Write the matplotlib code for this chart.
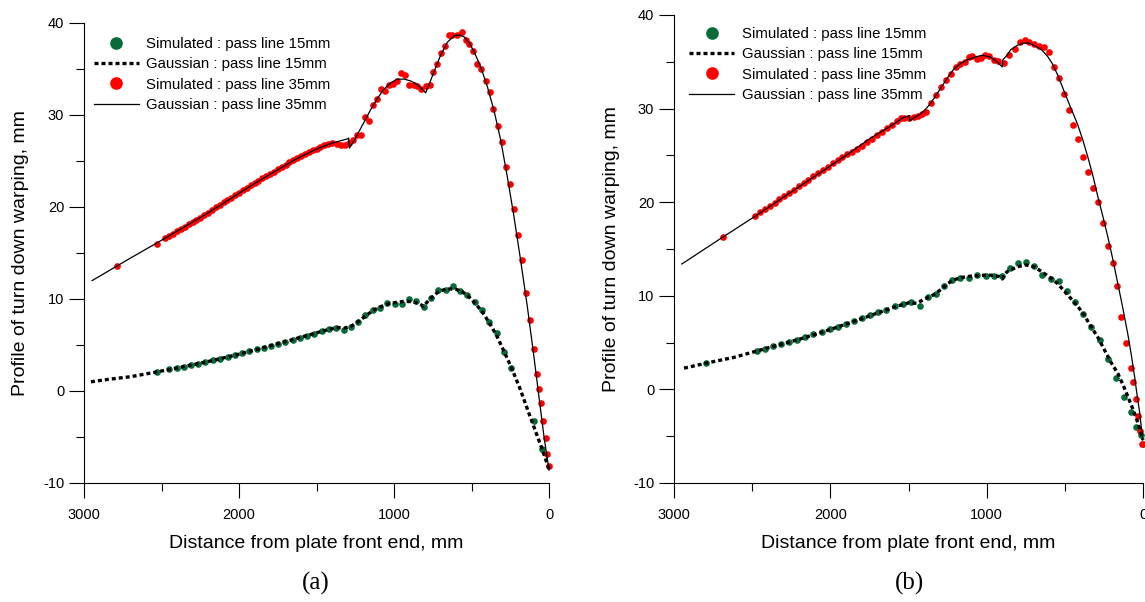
import matplotlib
matplotlib.use('Agg')
import matplotlib.pyplot as plt
from matplotlib.ticker import MultipleLocator

plt.rcParams['font.family'] = ['Liberation Sans', 'DejaVu Sans']
plt.rcParams['axes.unicode_minus'] = False

GREEN = '#0a6b3a'
RED = '#ff0000'

# ---------------- Panel (a) ----------------
a_x15 = [2532, 2452, 2403, 2356, 2309, 2264, 2217, 2168, 2121, 2074, 2027, 1980, 1933, 1886,
         1839, 1795, 1748, 1701, 1654, 1607, 1560, 1513, 1466, 1419, 1372, 1325, 1278, 1231,
         1184, 1137, 1090, 1043, 996, 949, 902, 855, 808, 761, 714, 667, 620, 573, 526, 479,
         432, 385, 338, 291, 244, 99, 42]
a_y15 = [2.1, 2.36, 2.5, 2.64, 2.83, 2.97, 3.15, 3.33, 3.51, 3.7, 3.91, 4.09, 4.31, 4.53,
         4.71, 4.93, 5.14, 5.33, 5.58, 5.8, 6.01, 6.23, 6.52, 6.78, 6.88, 6.67, 6.96, 7.5,
         8.22, 8.8, 9.06, 9.57, 9.46, 9.49, 9.96, 9.75, 9.17, 10.07, 10.94, 10.94, 11.38, 10.83,
         10.4, 9.71, 8.77, 7.5, 6.34, 4.24, 2.46, -3.3, -6.3]

a_gx15 = [2955, 2842, 2701, 2537, 2400, 2200, 2000, 1800, 1600, 1420, 1370, 1320, 1280, 1230,
          1180, 1130, 1080, 1030, 980, 930, 880, 840, 808, 790, 760, 720, 680, 640, 600, 560,
          520, 480, 430, 385, 340, 290, 244, 188, 117, 47, 0]
a_gy15 = [1.0, 1.27, 1.55, 2.05, 2.5, 3.2, 4.0, 4.9, 5.85, 6.7, 6.9, 6.85, 7.0, 7.55,
          8.2, 8.8, 9.2, 9.5, 9.65, 9.75, 9.7, 9.5, 9.2, 9.6, 10.1, 10.7, 11.0, 11.1, 11.05, 10.8,
          10.3, 9.6, 8.6, 7.4, 6.1, 4.3, 2.6, 0.3, -3.0, -6.2, -8.5]

a_x35 = [2787, 2529,
         2475, 2450, 2425, 2400, 2375, 2350, 2325, 2300, 2275, 2250, 2225, 2200, 2175, 2150,
         2125, 2100, 2075, 2050, 2025, 2000, 1975, 1950, 1925, 1900, 1875, 1850, 1825, 1800,
         1775, 1750, 1725, 1700, 1675, 1650, 1625, 1600, 1575, 1550, 1525, 1500, 1475, 1450,
         1425, 1400,
         1370, 1344, 1316, 1290, 1262, 1237, 1211, 1189, 1161, 1137, 1112, 1086, 1058, 1032,
         1004, 978, 957, 929, 903, 871, 849, 824, 796, 770, 746, 720, 695, 673, 645, 624,
         591, 563, 538, 516, 488, 462, 437, 409, 383, 359, 329, 303, 275, 252, 224, 198,
         172, 146, 120, 95, 75, 62, 49, 37, 22, 11, 2]
a_y35 = [13.6, 16.0,
         16.6, 16.85, 17.1, 17.35, 17.6, 17.85, 18.1, 18.35, 18.6, 18.85, 19.15, 19.4, 19.7, 19.95,
         20.2, 20.5, 20.75, 21.0, 21.25, 21.55, 21.8, 22.05, 22.35, 22.6, 22.85, 23.1, 23.35, 23.6,
         23.85, 24.1, 24.35, 24.6, 24.85, 25.1, 25.3, 25.5, 25.75, 25.95, 26.15, 26.35, 26.55, 26.7,
         26.85, 27.0,
         26.8, 26.7, 26.7, 27.0, 27.3, 27.8, 27.8, 29.8, 29.3, 31.1, 31.7, 32.8, 32.6, 33.3,
         33.4, 33.7, 34.6, 34.3, 33.3, 33.3, 33.1, 32.8, 33.1, 33.3, 34.7, 35.5, 36.7, 37.5, 38.7, 38.7,
         38.7, 39.0, 38.2, 37.7, 37.0, 35.5, 35.0, 33.7, 32.5, 30.7, 28.8, 27.1, 24.4, 22.5, 19.8, 17.0,
         14.2, 10.7, 7.7, 4.6, 1.9, 0.2, -1.3, -3.3, -5.1, -6.8, -8.1]

a_gx35 = [2948, 2700, 2478, 2200, 1900, 1650, 1500, 1400, 1300, 1292, 1288, 1258, 1226, 1194,
          1150, 1107, 1065, 1021, 978, 935, 892, 849, 817, 796, 774, 742, 699, 656, 613, 581,
          548, 516, 484, 441, 398, 355, 312, 269, 226, 183, 140, 97, 65, 32, 0]
a_gy35 = [12.0, 14.45, 16.6, 19.35, 22.55, 25.05, 26.3, 26.95, 27.4, 27.5, 26.4, 27.2, 28.2, 29.2,
          30.6, 31.8, 32.8, 33.5, 33.9, 33.9, 33.7, 33.3, 32.8, 32.4, 33.3, 34.7, 36.5, 37.9, 38.6, 38.7,
          38.5, 37.9, 36.9, 35.25, 33.1, 30.5, 27.3, 23.3, 18.95, 14.2, 9.2, 3.7, -0.6, -5.0, -8.6]

# ---------------- Panel (b) ----------------
b_x15 = [2795, 2471, 2420, 2368, 2316, 2265, 2213, 2162, 2110, 2056, 2004, 1953, 1901, 1847,
         1795, 1744, 1692, 1641, 1587, 1535, 1486, 1429, 1375, 1324, 1272, 1222, 1168, 1114,
         1061, 1007, 954, 904, 851, 799, 748, 696, 643, 589, 540, 486, 435, 384, 332, 276,
         225, 172, 122, 76, 46, 15, 1]
b_y15 = [2.8, 4.12, 4.34, 4.59, 4.83, 5.08, 5.33, 5.58, 5.87, 6.12, 6.4, 6.69, 7.01, 7.29,
         7.58, 7.9, 8.22, 8.5, 8.86, 9.15, 9.29, 8.86, 9.88, 10.2, 11.0, 11.7, 11.9, 11.9,
         12.2, 12.1, 12.1, 12.1, 13.0, 13.5, 13.6, 13.2, 12.2, 11.8, 11.6, 10.5, 9.3, 8.1, 6.65, 5.3,
         3.3, 1.2, -0.8, -2.45, -4.0, -4.9, -5.85]

b_gx15 = [2936, 2795, 2612, 2471, 2200, 2000, 1800, 1600, 1500, 1446, 1404, 1340, 1290, 1250,
          1211, 1160, 1104, 1018, 954, 920, 900, 885, 868, 804, 750, 696, 632, 590, 546, 482,
          418, 375, 332, 290, 246, 205, 161, 128, 96, 65, 32, 0]
b_gy15 = [2.27, 2.8, 3.44, 4.1, 5.35, 6.4, 7.55, 8.75, 9.25, 9.2, 9.6, 10.1, 10.7, 11.3,
          11.7, 11.95, 12.1, 12.2, 12.2, 12.05, 11.8, 12.3, 12.6, 13.1, 13.3, 13.1, 12.4, 11.9, 11.3, 10.1,
          8.9, 7.9, 6.7, 5.6, 4.2, 2.9, 1.7, 0.5, -0.8, -2.1, -3.6, -5.4]

b_x35 = [2685, 2481, 2450, 2419, 2388, 2357, 2326, 2295, 2264, 2233, 2202, 2171, 2140, 2109,
         2078, 2047, 2016, 1985, 1954, 1923, 1892, 1861, 1830, 1799, 1768, 1736, 1704, 1672,
         1639, 1607, 1575, 1547, 1526, 1494, 1468, 1440, 1414, 1389, 1354, 1322, 1292, 1258,
         1226, 1194, 1168, 1140, 1112, 1093, 1065, 1039, 1011, 986, 954, 926, 888, 855, 821,
         786, 756, 729, 697, 664, 632, 600, 572, 540, 508, 476, 446, 414, 382, 352, 319, 287,
         255, 223, 191, 168, 138, 106, 78, 62, 46, 33, 18, 4]
b_y35 = [16.3, 18.5, 18.9, 19.25, 19.6, 19.95, 20.3, 20.65, 21.0, 21.35, 21.7, 22.05, 22.4, 22.75,
         23.1, 23.45, 23.8, 24.15, 24.5, 24.8, 25.1, 25.4, 25.7, 26.0, 26.45, 26.8, 27.2, 27.55,
         27.95, 28.3, 28.65, 29.0, 29.0, 29.0, 29.1, 29.2, 29.4, 29.6, 30.6, 31.5, 32.3, 33.1,
         33.7, 34.4, 34.8, 35.0, 35.5, 35.6, 35.3, 35.4, 35.7, 35.6, 35.2, 35.1, 34.9, 35.7, 36.35,
         37.1, 37.3, 37.1, 36.9, 36.7, 36.6, 36.0, 34.4, 33.3, 31.6, 29.9, 28.2, 26.8, 24.8, 23.2, 21.5, 20.0,
         17.8, 15.3, 13.5, 11.0, 7.7, 5.0, 2.3, 0.8, -1.0, -2.8, -4.4, -5.8]

b_gx35 = [2950, 2685, 2481, 2200, 1900, 1746, 1618, 1532, 1496, 1492, 1457, 1425, 1393, 1361,
          1297, 1250, 1211, 1168, 1125, 1075, 1029, 975, 940, 900, 897, 870, 846, 800, 761, 730,
          697, 650, 611, 580, 546, 515, 482, 450, 418, 386, 354, 320, 289, 257, 225, 193, 161,
          128, 96, 75, 54, 38, 21, 2]
b_gy35 = [13.4, 16.3, 18.5, 21.65, 25.0, 26.8, 28.1, 29.05, 29.25, 28.7, 29.1, 29.4, 29.9, 30.5,
          32.1, 33.3, 34.2, 34.8, 35.2, 35.5, 35.7, 35.5, 35.1, 34.45, 35.2, 35.7, 36.3, 36.8, 37.0, 37.0,
          36.75, 36.3, 35.6, 34.8, 33.6, 32.3, 30.9, 29.6, 28.3, 26.7, 24.9, 22.8, 20.6, 18.5, 16.3, 13.9, 11.3,
          8.6, 5.8, 3.7, 1.4, -0.6, -2.5, -5.4]

legend_labels = ['Simulated : pass line 15mm', 'Gaussian : pass line 15mm',
                 'Simulated : pass line 35mm', 'Gaussian : pass line 35mm']
x_label = 'Distance from plate front end, mm'
y_label = 'Profile of turn down warping, mm'
panel_tags = ['(a)', '(b)']

W, H = 1145, 602
fig = plt.figure(figsize=(W / 100, H / 100), dpi=100)


def make_axes(l, t, r, b):
    return fig.add_axes([l / W, 1 - b / H, (r - l) / W, (b - t) / H])


DOT = (0, (1.2, 0.9))


def draw(ax, x15, y15, gx15, gy15, x35, y35, gx35, gy35, ax_l, ax_t, ax_r, ax_b, leg_anchor):
    ax.plot(x15, y15, 'o', color=GREEN, ms=4.8, mec='none', clip_on=False, zorder=2,
            label=legend_labels[0])
    ax.plot(gx15, gy15, color='black', lw=2.4, ls=DOT, clip_on=False, zorder=3,
            label=legend_labels[1])
    ax.plot(x35, y35, 'o', color=RED, ms=4.8, mec='none', clip_on=False, zorder=2,
            label=legend_labels[2])
    ax.plot(gx35, gy35, color='black', lw=0.9, clip_on=False, zorder=3,
            label=legend_labels[3])
    ax.set_xlim(3000, 0)
    ax.set_ylim(-10, 40)
    for s in ['top', 'right']:
        ax.spines[s].set_visible(False)
    for s in ['left', 'bottom']:
        ax.spines[s].set_linewidth(0.8)
    ax.xaxis.set_major_locator(MultipleLocator(1000))
    ax.xaxis.set_minor_locator(MultipleLocator(500))
    ax.yaxis.set_major_locator(MultipleLocator(10))
    ax.yaxis.set_minor_locator(MultipleLocator(5))
    ax.tick_params(which='major', length=10.8, width=0.8, direction='out', labelsize=10.5)
    ax.tick_params(which='minor', length=5.8, width=0.8, direction='out')
    ax.tick_params(axis='x', which='major', pad=7)
    ax.tick_params(axis='y', which='major', pad=3.5)
    wpx = ax_r - ax_l
    hpx = ax_b - ax_t
    ax.set_xlabel(x_label, fontsize=14, va='center')
    ax.xaxis.set_label_coords(0.5, -(543 - ax_b) / hpx)
    ax.set_ylabel(y_label, fontsize=14, va='center')
    ax.yaxis.set_label_coords(-63 / wpx, 0.5)
    leg = ax.legend(loc='upper left', bbox_to_anchor=leg_anchor, frameon=False, fontsize=10.8,
                    handlelength=3.0, handletextpad=0.5, labelspacing=0.42, borderpad=0,
                    borderaxespad=0, markerscale=1.9)
    return leg


axA = make_axes(84, 23, 549, 483)
axB = make_axes(674, 15, 1143, 483)

draw(axA, a_x15, a_y15, a_gx15, a_gy15, a_x35, a_y35, a_gx35, a_gy35, 84, 23, 549, 483,
     ((94 - 84) / 465, 1 - (37 - 23) / 460))
draw(axB, b_x15, b_y15, b_gx15, b_gy15, b_x35, b_y35, b_gx35, b_gy35, 674, 15, 1143, 483,
     ((689 - 674) / 469, 1 - (27 - 15) / 468))

fig.text(316 / W, 1 - 583 / H, panel_tags[0], fontsize=18, family=['Liberation Serif'],
         ha='center', va='center')
fig.text(910 / W, 1 - 583 / H, panel_tags[1], fontsize=18, family=['Liberation Serif'],
         ha='center', va='center')

fig.savefig('out.png', dpi=100)
